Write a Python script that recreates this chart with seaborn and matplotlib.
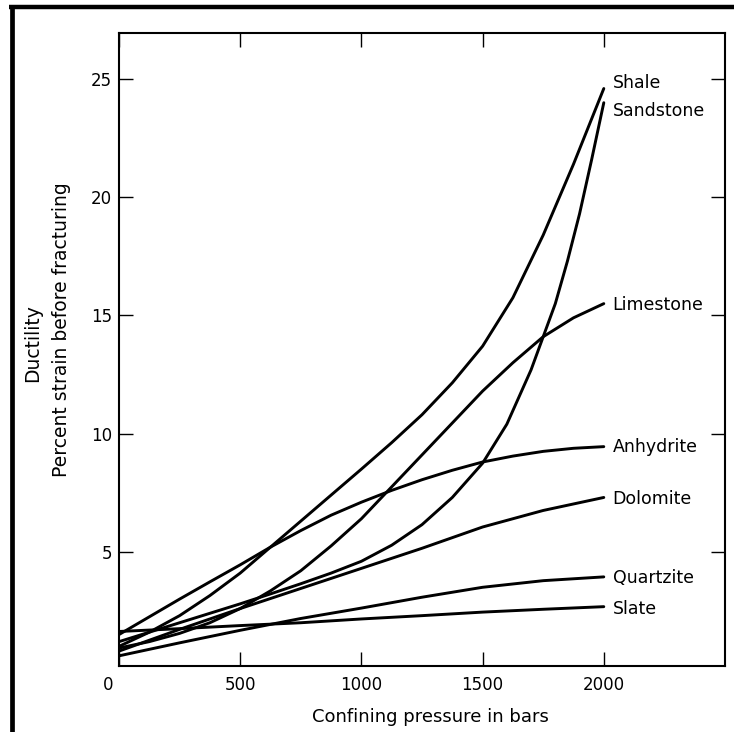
import matplotlib
matplotlib.use("Agg")
import matplotlib.pyplot as plt
from matplotlib.lines import Line2D
import matplotlib.transforms as mtransforms
import seaborn as sns
import pandas as pd

# ---- data ----
pressure = [0, 250, 500, 750, 1000, 1250, 1500, 1750, 2000]
pressure_fine = [0, 125, 250, 375, 500, 625, 750, 875, 1000, 1125, 1250,
                 1375, 1500, 1625, 1750, 1875, 2000]
pressure_sand = [0, 125, 250, 375, 500, 625, 750, 875, 1000, 1125, 1250, 1375,
                 1500, 1600, 1700, 1800, 1850, 1900, 1950, 2000]

shale = [1.0, 1.6, 2.3, 3.15, 4.1, 5.2, 6.3, 7.4, 8.5, 9.62, 10.8, 12.15,
         13.7, 15.75, 18.4, 21.4, 24.6]
sandstone = [1.2, 1.6, 2.0, 2.4, 2.8, 3.22, 3.65, 4.1, 4.6, 5.28, 6.15, 7.3,
             8.75, 10.4, 12.7, 15.5, 17.3, 19.3, 21.6, 24.0]
limestone = [0.93, 1.2, 1.55, 2.0, 2.6, 3.35, 4.2, 5.25, 6.4, 7.75, 9.1, 10.45,
             11.8, 13.0, 14.1, 14.9, 15.5]
anhydrite = [1.5, 2.25, 3.0, 3.73, 4.45, 5.2, 5.9, 6.55, 7.1, 7.6, 8.05, 8.45,
             8.8, 9.05, 9.25, 9.38, 9.45]
dolomite = [0.8, 1.72, 2.6, 3.45, 4.3, 5.15, 6.05, 6.75, 7.3]
quartzite = [0.6, 1.15, 1.68, 2.18, 2.62, 3.08, 3.5, 3.78, 3.94]
slate = [1.63, 1.75, 1.88, 2.0, 2.16, 2.3, 2.45, 2.57, 2.68]

rock_names = ["Shale", "Sandstone", "Limestone", "Anhydrite", "Dolomite", "Quartzite", "Slate"]
label_y = [24.85, 23.65, 15.45, 9.45, 7.25, 3.9, 2.6]

x_ticks = [0, 500, 1000, 1500, 2000]
y_ticks = [5, 10, 15, 20, 25]

series = {
    "Shale": (pressure_fine, shale),
    "Sandstone": (pressure_sand, sandstone),
    "Limestone": (pressure_fine, limestone),
    "Anhydrite": (pressure_fine, anhydrite),
    "Dolomite": (pressure, dolomite),
    "Quartzite": (pressure, quartzite),
    "Slate": (pressure, slate),
}

rows = []
for name in rock_names:
    xs, ys = series[name]
    for xv, yv in zip(xs, ys):
        rows.append({"rock": name, "pressure": xv, "strain": yv})
df = pd.DataFrame(rows)

# ---- figure ----
sns.set_theme(style="white")
plt.rcParams["font.family"] = ["DejaVu Sans"]
plt.rcParams["text.color"] = "black"

W, H = 734, 732
fig = plt.figure(figsize=(W / 100, H / 100), dpi=100)
left, right, top, bottom = 119, 725, 32.5, 666
ax = fig.add_axes([left / W, 1 - bottom / H, (right - left) / W, (bottom - top) / H])

sns.lineplot(
    data=df, x="pressure", y="strain", hue="rock", units="rock",
    palette={n: "black" for n in rock_names}, estimator=None, sort=False,
    legend=False, linewidth=2.1, ax=ax,
)
for ln in ax.get_lines():
    ln.set_solid_joinstyle("round")
    ln.set_solid_capstyle("round")

ax.set_xlim(0, 2500)
ax.set_ylim(0.17, 26.97)
ax.set_xticks(x_ticks)
ax.set_xticklabels([str(v) for v in x_ticks])
ax.set_yticks(y_ticks)
ax.set_yticklabels([str(v) for v in y_ticks])
ax.set_xlabel("")
ax.set_ylabel("")

for s in ax.spines.values():
    s.set_visible(True)
    s.set_linewidth(1.5)
    s.set_color("black")

ax.tick_params(axis="both", which="major", direction="in", length=10, width=1.0,
               top=True, right=True, bottom=True, left=True,
               labelsize=12, colors="black")
ax.tick_params(axis="x", pad=7)
ax.tick_params(axis="y", pad=5)

# shift the "0" label slightly left as in the reference
offset = mtransforms.ScaledTranslation(-8 / 72, 0, fig.dpi_scale_trans)
ax.get_xticklabels()[0].set_transform(ax.get_xticklabels()[0].get_transform() + offset)

for name, yv in zip(rock_names, label_y):
    ax.text(2036, yv, name, fontsize=12.5, va="center", ha="left", color="black")

# axis titles
fig.text(430 / W, 1 - 717 / H, "Confining pressure in bars", fontsize=13,
         ha="center", va="center", color="black")
fig.text(33 / W, 1 - 343 / H, "Ductility", fontsize=13.5, rotation=90,
         ha="center", va="center", color="black")
fig.text(62 / W, 1 - 330 / H, "Percent strain before fracturing", fontsize=13.5,
         rotation=90, ha="center", va="center", color="black")

# thick outer frame (left and top edges visible)
fig.add_artist(Line2D([11.7 / W, 11.7 / W], [0, 1 - 7 / H], transform=fig.transFigure,
                      color="black", linewidth=3.4, solid_capstyle="butt"))
fig.add_artist(Line2D([9.3 / W, 1], [1 - 7 / H, 1 - 7 / H], transform=fig.transFigure,
                      color="black", linewidth=3.2, solid_capstyle="butt"))

fig.savefig("out.png", dpi=100, facecolor="white")
